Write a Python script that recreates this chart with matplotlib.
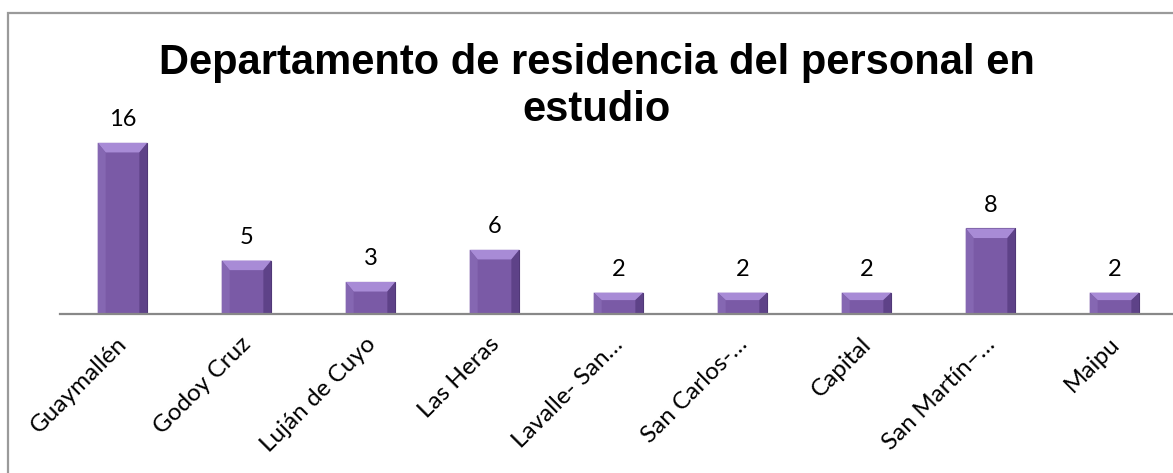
import matplotlib
matplotlib.use('Agg')
import matplotlib.pyplot as plt
from matplotlib.patches import Polygon, Rectangle
from matplotlib.transforms import ScaledTranslation

# Data
departamentos = ['Guaymallén', 'Godoy Cruz', 'Luján de Cuyo', 'Las Heras',
                 'Lavalle- San…', 'San Carlos-…', 'Capital', 'San Martín–…', 'Maipu']
personas = [16, 5, 3, 6, 2, 2, 2, 8, 2]

W, H = 1173, 473
fig = plt.figure(figsize=(W / 100, H / 100), dpi=100)

# outer chart border (cut off at right/bottom like the source)
fig.patches.append(Rectangle((8 / W, -0.05), 1.1, 1 - 13 / H + 0.05,
                             transform=fig.transFigure, fill=False,
                             edgecolor='#9a9a9a', linewidth=1.6))

ax = fig.add_axes([60.5 / W, 159 / H, 1116 / W, 214 / H])
x = list(range(len(departamentos)))
bars = ax.bar(x, personas, width=0.4, color='#7a5aa6', edgecolor='#4b3470',
              linewidth=0.8, zorder=2)

# bevel effect on each bar
for b in bars:
    x0, y0 = b.get_x(), b.get_y()
    w, h = b.get_width(), b.get_height()
    bx = w * 0.16
    by = min(0.9, h * 0.35)
    top = Polygon([(x0, y0 + h), (x0 + w, y0 + h), (x0 + w - bx, y0 + h - by),
                   (x0 + bx, y0 + h - by)], closed=True,
                  facecolor='#a88bd6', edgecolor='none', zorder=3)
    left = Polygon([(x0, y0), (x0, y0 + h), (x0 + bx, y0 + h - by), (x0 + bx, y0)],
                   closed=True, facecolor='#8567b2', edgecolor='none', zorder=3)
    right = Polygon([(x0 + w, y0), (x0 + w, y0 + h), (x0 + w - bx, y0 + h - by),
                     (x0 + w - bx, y0)], closed=True,
                    facecolor='#5e4288', edgecolor='none', zorder=3)
    for p in (top, left, right):
        ax.add_patch(p)

for xi, v in zip(x, personas):
    ax.annotate(str(v), (xi, v), xytext=(0, 12), textcoords='offset points',
                ha='center', va='baseline', fontsize=17, family='Lato')

ax.set_xlim(-0.5, len(departamentos) - 0.5)
ax.set_ylim(0, 20)
ax.set_yticks([])
ax.set_xticks(x)
ax.set_xticklabels(departamentos, rotation=45, ha='right', rotation_mode='anchor',
                   fontsize=17.5, family='Lato')
ax.tick_params(axis='x', length=0, pad=14)
shift = ScaledTranslation(-6 / 100, 0, fig.dpi_scale_trans)
for lbl in ax.get_xticklabels():
    lbl.set_transform(lbl.get_transform() + shift)
for s in ['top', 'right', 'left']:
    ax.spines[s].set_visible(False)
ax.spines['bottom'].set_color('#888888')
ax.spines['bottom'].set_linewidth(1.6)
ax.spines['bottom'].set_zorder(4)

fig.text(597 / W, 1 - 63 / H, 'Departamento de residencia del personal en',
         ha='center', va='center', fontsize=30, fontweight='bold',
         family='Liberation Sans')
fig.text(597 / W, 1 - 110 / H, 'estudio',
         ha='center', va='center', fontsize=30, fontweight='bold',
         family='Liberation Sans')

fig.savefig('out.png', dpi=100)
